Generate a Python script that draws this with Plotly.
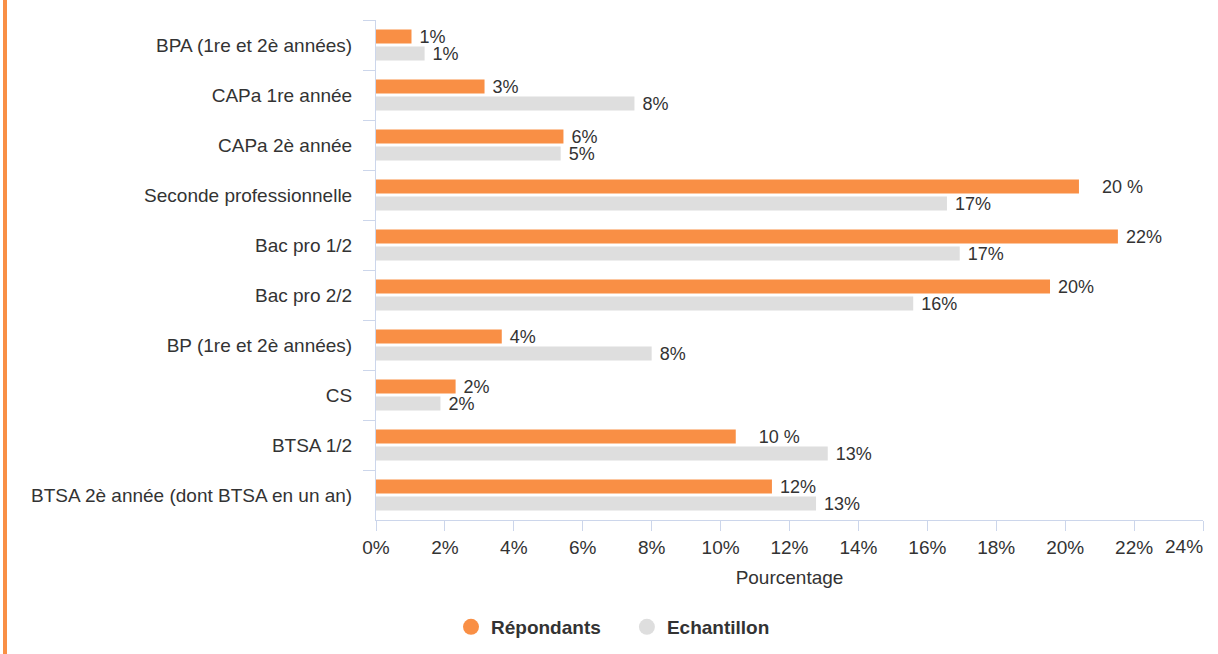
import plotly.graph_objects as go

categories = [
    "BPA (1re et 2è années)",
    "CAPa 1re année",
    "CAPa 2è année",
    "Seconde professionnelle",
    "Bac pro 1/2",
    "Bac pro 2/2",
    "BP (1re et 2è années)",
    "CS",
    "BTSA 1/2",
    "BTSA 2è année (dont BTSA en un an)",
]
repondants = [1.03, 3.15, 5.44, 20.4, 21.53, 19.56, 3.65, 2.31, 10.44, 11.49]
repondants_labels = ["1%", "3%", "6%", "&nbsp;&nbsp;&nbsp;20 %", "22%", "20%", "4%", "2%",
                     "&nbsp;&nbsp;&nbsp;10 %", "12%"]
echantillon = [1.41, 7.5, 5.36, 16.57, 16.94, 15.59, 8.0, 1.87, 13.11, 12.77]
echantillon_labels = ["1%", "8%", "5%", "17%", "17%", "16%", "8%", "2%", "13%", "13%"]
tick_vals = list(range(0, 25, 2))
tick_text = [f"{v}%" for v in tick_vals]

ORANGE = "#F98F45"
GREY = "#DEDEDE"
TXT = "#333333"
AXIS = "#CCD6EB"
FONT = "Liberation Sans, Arial, sans-serif"
FS = 19
FS_LBL = 18

fig = go.Figure()
fig.add_trace(go.Bar(
    y=categories, x=repondants, orientation="h", name="Répondants",
    marker=dict(color=ORANGE, line=dict(width=0)),
    text=[" " + t for t in repondants_labels], textposition="outside",
    textfont=dict(size=FS_LBL, color=TXT, family=FONT), cliponaxis=False,
    constraintext="none", showlegend=False,
))
fig.add_trace(go.Bar(
    y=categories, x=echantillon, orientation="h", name="Echantillon",
    marker=dict(color=GREY, line=dict(width=0)),
    text=[" " + t for t in echantillon_labels], textposition="outside",
    textfont=dict(size=FS_LBL, color=TXT, family=FONT), cliponaxis=False,
    constraintext="none", showlegend=False,
))
# legend entries with circular symbols
fig.add_trace(go.Scatter(x=[None], y=[None], mode="markers",
                         name="<b>Répondants</b>" + "&nbsp;" * 4,
                         marker=dict(color=ORANGE, size=19, symbol="circle")))
fig.add_trace(go.Scatter(x=[None], y=[None], mode="markers",
                         name="<b>Echantillon</b>",
                         marker=dict(color=GREY, size=19, symbol="circle")))

L, R, T, B = 376, 15, 20, 134
W, H = 1218, 654
pw = W - L - R

# the last tick label sits left of its tick (right-aligned), as in the reference
last_tick_ann = dict(
    x=tick_vals[-1], xref="x", y=0, yref="paper",
    text=tick_text[-1], showarrow=False,
    xanchor="right", yanchor="top", yshift=-14, xshift=2,
    font=dict(size=FS, color=TXT, family=FONT),
)
tick_text_axis = tick_text[:-1] + [""]

fig.update_layout(
    width=W, height=H,
    margin=dict(l=L, r=R, t=T, b=B, pad=0, autoexpand=False),
    paper_bgcolor="white", plot_bgcolor="white",
    barmode="group", bargap=0.32, bargroupgap=0.18,
    font=dict(family=FONT, size=FS, color=TXT),
    showlegend=True,
    legend=dict(
        orientation="h", x=(451 - L) / pw, xanchor="left",
        y=(520 - 627) / 500, yanchor="middle",
        font=dict(size=FS, color=TXT, family=FONT),
        itemsizing="trace", bgcolor="rgba(0,0,0,0)",
        tracegroupgap=0, itemwidth=30,
    ),
    xaxis=dict(
        range=[0, 24], tickvals=tick_vals, ticktext=tick_text_axis,
        automargin=False,
        showgrid=False, zeroline=False,
        showline=True, linecolor=AXIS, linewidth=1,
        ticks="outside", ticklen=10, tickcolor=AXIS, tickwidth=1,
        tickfont=dict(size=FS, color=TXT),
        title=dict(text="Pourcentage", font=dict(size=FS, color=TXT), standoff=13),
    ),
    yaxis=dict(
        categoryorder="array", categoryarray=categories,
        autorange="reversed", automargin=False,
        showgrid=False, zeroline=False,
        showline=True, linecolor=AXIS, linewidth=1,
        ticks="outside", ticklen=12, tickcolor=AXIS, tickwidth=1,
        tickson="boundaries",
        tickfont=dict(size=FS, color=TXT),
        ticklabelstandoff=19,
    ),
    annotations=[last_tick_ann],
    shapes=[dict(
        type="line", xref="paper", yref="paper",
        x0=(5 - L) / pw, x1=(5 - L) / pw,
        y0=(520 - 0) / 500, y1=(520 - H) / 500,
        line=dict(color=ORANGE, width=4),
    )],
)

fig.write_html("out.html", config={"displayModeBar": False},
               post_script="document.body.style.margin='0';")
